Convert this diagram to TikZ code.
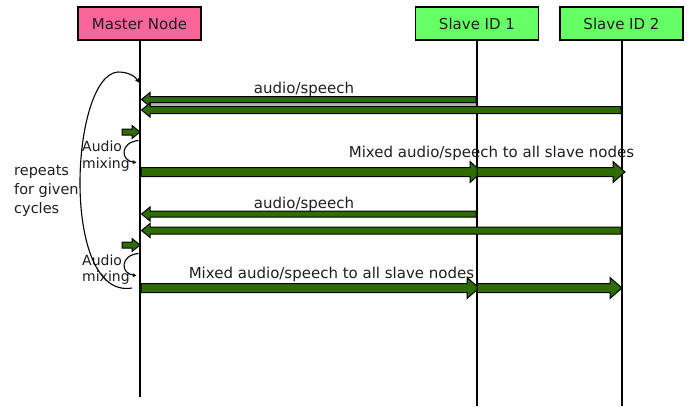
\documentclass[tikz,border=0pt]{standalone}
\usepackage{fontspec}
\setmainfont{DejaVu Sans}
\usetikzlibrary{arrows.meta}
\definecolor{pinkbox}{HTML}{FA6699}
\definecolor{greenbox}{HTML}{66FF66}
\definecolor{darkgreen}{HTML}{2E6B00}
\definecolor{txt}{HTML}{1E1E1E}
\tikzset{
  hdr/.style={draw=black, line width=1.6bp, minimum width=123bp, minimum height=33bp, inner sep=0pt, font=\fontsize{15bp}{18bp}\selectfont, text=txt},
  life/.style={draw=black, line width=1.3bp},
  blk/.style={draw=black, line width=1bp, fill=darkgreen, line join=miter},
  lbl/.style={font=\fontsize{15bp}{18bp}\selectfont, text=txt, inner sep=0pt, anchor=base},
  small/.style={font=\fontsize{14bp}{16.5bp}\selectfont, text=txt, inner sep=0pt, anchor=base west, align=left},
  curv/.style={draw=black, line width=1.1bp, -{Stealth[length=5bp,width=4.5bp]}},
}
% #1 tail x, #2 tip x, #3 y, #4 shaft half, #5 head half, #6 signed head length
\newcommand\blockarr[6]{%
  \path[blk] ({#1},{#3-#4}) -- ({#2-#6},{#3-#4}) -- ({#2-#6},{#3-#5}) -- ({#2},{#3})
    -- ({#2-#6},{#3+#5}) -- ({#2-#6},{#3+#4}) -- ({#1},{#3+#4}) -- cycle;}
\begin{document}
\begin{tikzpicture}[x=1bp,y=-1bp]
\useasboundingbox (0,0) rectangle (692,406);
% headers
\node[hdr, fill=pinkbox] (master) at (139.5,23.5) {Master Node};
\node[hdr, fill=greenbox] (s1) at (477,23.5) {Slave ID 1};
\node[hdr, fill=greenbox] (s2) at (621.5,23.5) {Slave ID 2};
\coordinate (mend) at (140,397);
\coordinate (s1end) at (477,406);
\coordinate (s2end) at (622,406);
\draw[life] (master.south -| mend) -- (mend);
\draw[life] (s1.south -| s1end) -- (s1end);
\draw[life] (s2.south -| s2end) -- (s2end);
% cycle 1
\fill[gray!60] (150,102) rectangle (476,106.5);
\blockarr{476}{141.5}{99.5}{3}{7}{-8.5}
\blockarr{621}{141.5}{110}{3.5}{7}{-8.5}
\node[lbl] (l1) at (304,93) {audio/speech};
\blockarr{122}{140}{132}{3}{6.5}{8}
\draw[line width=1.1bp, -{Stealth[length=4bp,width=4bp]}] (138.5,140.5) .. controls (120,142) and (120,161) .. (136.5,162.5);
\node[small] (m1) at (82,168) {Audio\\mixing};
\blockarr{141}{482}{172}{4.5}{10.5}{12}
\blockarr{477}{625}{172}{4.5}{10.5}{12}
\node[lbl] (l2) at (491.5,157.5) {Mixed audio/speech to all slave nodes};
% cycle 2
\blockarr{476}{141.5}{214}{3}{7}{-8.5}
\blockarr{621}{141.5}{230.5}{3.5}{7}{-8.5}
\node[lbl] (l3) at (304,208) {audio/speech};
\blockarr{122}{140}{245}{3}{6.5}{8}
\draw[line width=1.1bp, -{Stealth[length=4bp,width=4bp]}] (138.5,253.5) .. controls (120,255) and (120,274) .. (136.5,275.5);
\node[small] (m2) at (82,281.5) {Audio\\mixing};
\blockarr{141}{479}{288}{4.5}{10.5}{12}
\blockarr{477}{622}{288}{4.5}{10.5}{12}
\node[lbl] (l4) at (331.5,278) {Mixed audio/speech to all slave nodes};
% repeat loop
\draw[curv] (132,288) .. controls (60,300) and (70,75) .. (118,72) .. controls (128,72) and (135,76) .. (139.5,83);
\node[anchor=base west, align=left, inner sep=0pt, font=\fontsize{14.5bp}{19bp}\selectfont, text=txt] (rep) at (14,213) {repeats\\for given\\cycles};
\end{tikzpicture}
\end{document}
